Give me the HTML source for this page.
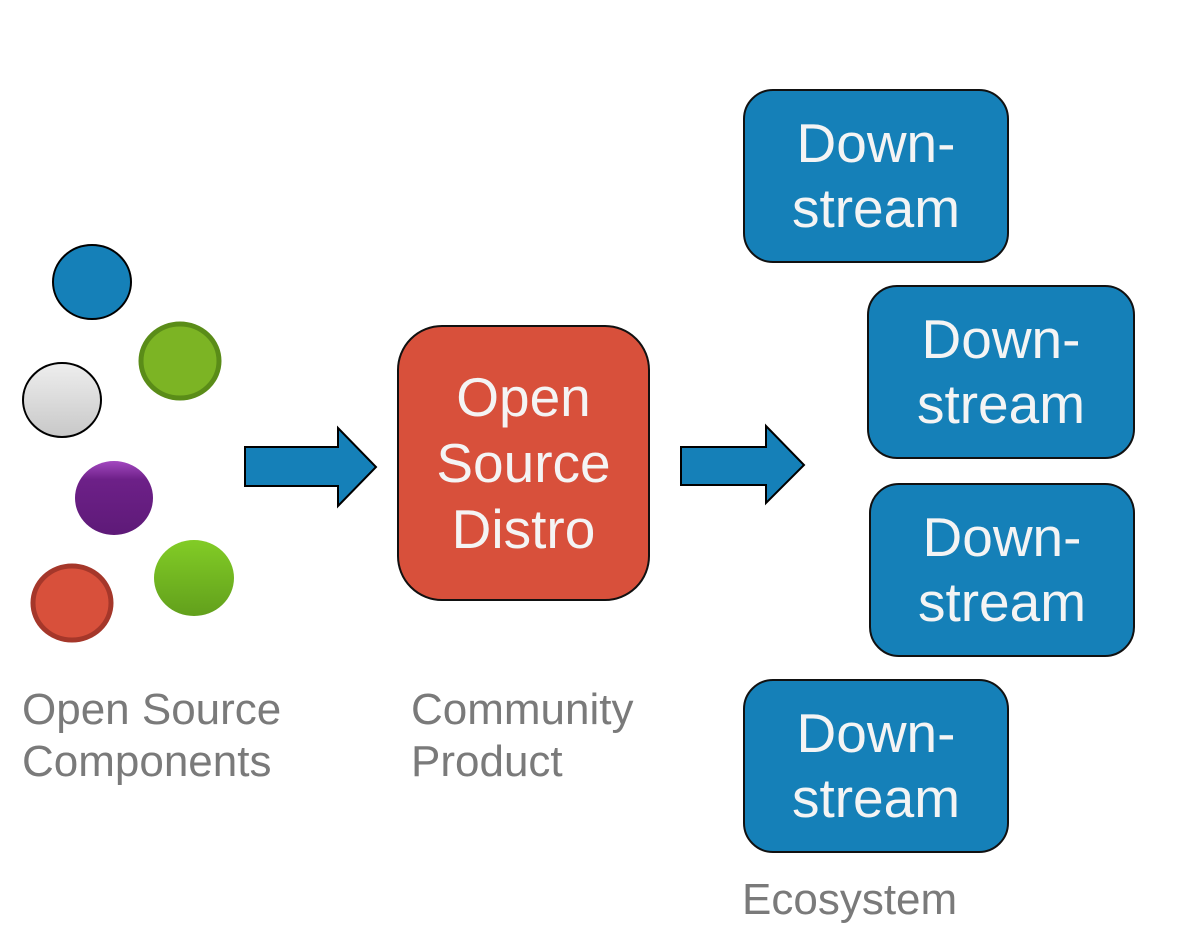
<!DOCTYPE html>
<html><head><style>
body{margin:0;width:1180px;height:948px;background:#fff;position:relative;overflow:hidden;font-family:"Liberation Sans",sans-serif}
.b{position:absolute;box-sizing:border-box;border:2px solid #111;border-radius:30px;background:#1580b8;color:#f4f4f4;font-size:55px;line-height:65px;text-align:center;display:flex;align-items:center;justify-content:center}
.l{position:absolute;color:#7a7a7a;font-size:44px;line-height:52px}
</style></head><body>
<svg width="1180" height="948" style="position:absolute;left:0;top:0">
<defs>
<linearGradient id="gw" x1="0" y1="0" x2="0" y2="1"><stop offset="0" stop-color="#eee"/><stop offset="1" stop-color="#c8c8c8"/></linearGradient>
<linearGradient id="gp" x1="0" y1="0" x2="0" y2="1"><stop offset="0" stop-color="#a348c0"/><stop offset=".25" stop-color="#6d2088"/><stop offset="1" stop-color="#5e1a78"/></linearGradient>
<linearGradient id="gg" x1="0" y1="0" x2="0" y2="1"><stop offset="0" stop-color="#82cc26"/><stop offset="1" stop-color="#62a01c"/></linearGradient>
</defs>
<ellipse cx="92" cy="282" rx="39" ry="37" fill="#1580b8" stroke="#000" stroke-width="2"/>
<ellipse cx="180" cy="361" rx="39" ry="37" fill="#7cb424" stroke="#5a8c18" stroke-width="5"/>
<ellipse cx="62" cy="400" rx="39" ry="37" fill="url(#gw)" stroke="#000" stroke-width="2"/>
<ellipse cx="114" cy="498" rx="39" ry="37" fill="url(#gp)"/>
<ellipse cx="194" cy="578" rx="40" ry="38" fill="url(#gg)"/>
<ellipse cx="72" cy="603" rx="39" ry="37" fill="#d8503b" stroke="#a5372a" stroke-width="5"/>
<polygon points="245,447 338,447 338,428 376,467 338,506 338,486 245,486" fill="#1580b8" stroke="#000" stroke-width="2"/>
<polygon points="681,447 766,447 766,426 804,465 766,503 766,485 681,485" fill="#1580b8" stroke="#000" stroke-width="2"/>
</svg>
<div class="b" style="left:397px;top:325px;width:253px;height:276px;border-radius:45px;background:#d8503b;line-height:66px">Open<br>Source<br>Distro</div>
<div class="b" style="left:743px;top:89px;width:266px;height:174px">Down-<br>stream</div>
<div class="b" style="left:867px;top:285px;width:268px;height:174px">Down-<br>stream</div>
<div class="b" style="left:869px;top:483px;width:266px;height:174px">Down-<br>stream</div>
<div class="b" style="left:743px;top:679px;width:266px;height:174px">Down-<br>stream</div>
<div class="l" style="left:22px;top:684px">Open Source<br>Components</div>
<div class="l" style="left:411px;top:684px">Community<br>Product</div>
<div class="l" style="left:742px;top:874px">Ecosystem</div>
</body></html>
